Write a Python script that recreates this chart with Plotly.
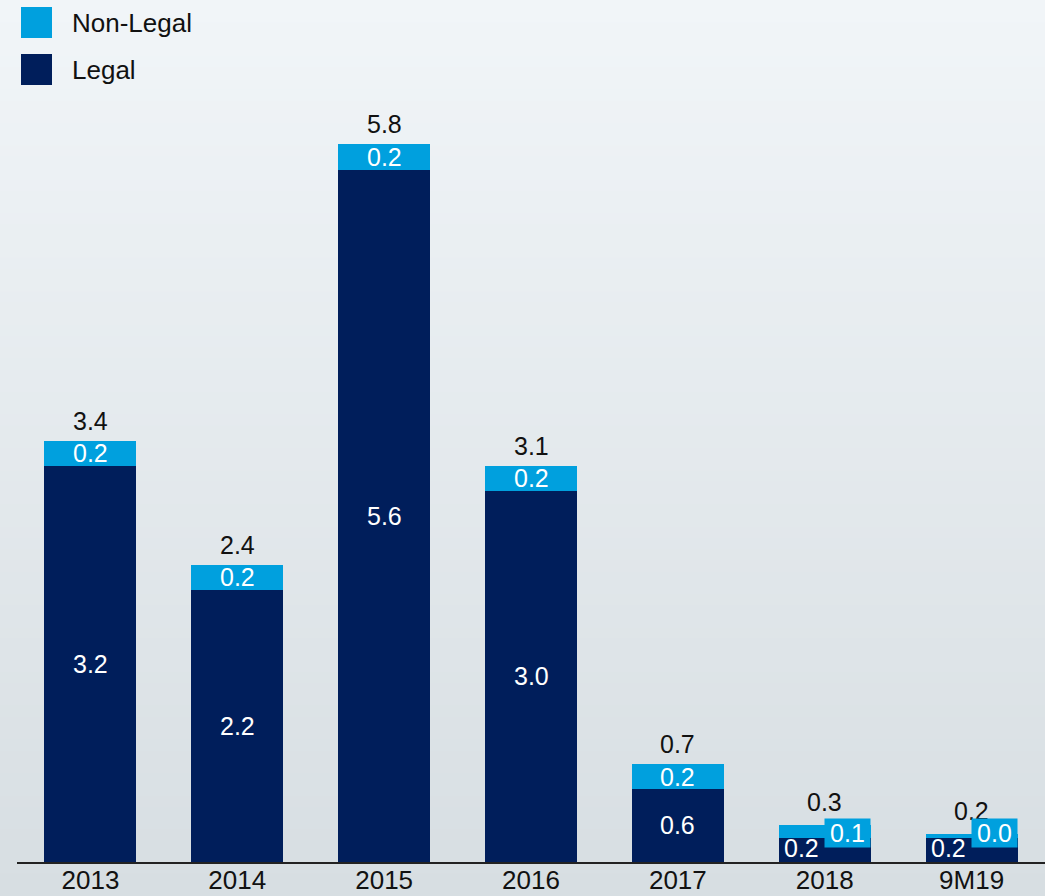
import plotly.graph_objects as go

# ---- data ----
categories = ["2013", "2014", "2015", "2016", "2017", "2018", "9M19"]
legal = [3.20, 2.20, 5.59, 3.00, 0.59, 0.19, 0.19]
non_legal = [0.20, 0.20, 0.21, 0.20, 0.20, 0.11, 0.04]
legal_labels = ["3.2", "2.2", "5.6", "3.0", "0.6", "0.2", "0.2"]
non_legal_labels = ["0.2", "0.2", "0.2", "0.2", "0.2", "0.1", "0.0"]
total_labels = ["3.4", "2.4", "5.8", "3.1", "0.7", "0.3", "0.2"]
series_names = ["Legal", "Non-Legal"]

# ---- style ----
W, H = 1045, 896
ML, MR, MT, MB = 17, 0, 100, 34
PW, PH = W - ML - MR, H - MT - MB
PX_PER_UNIT = 123.8
YMAX = PH / PX_PER_UNIT
DARK = "#001E5B"
LIGHT = "#00A0DE"
FONT = "Liberation Sans, Arial, Helvetica, sans-serif"


def px_x(px):
    return (px - ML) / PW


def px_y(py):
    return (H - MB - py) / PH


fig = go.Figure()
fig.add_trace(go.Bar(x=categories, y=legal, name=series_names[0],
                     marker=dict(color=DARK, line=dict(width=0)), width=0.626,
                     hoverinfo="skip"))
fig.add_trace(go.Bar(x=categories, y=non_legal, name=series_names[1],
                     marker=dict(color=LIGHT, line=dict(width=0)), width=0.626,
                     hoverinfo="skip"))

# background gradient
shapes = []
N = 80
top_c = (241, 245, 248)
bot_c = (215, 222, 226)
for i in range(N):
    t = i / (N - 1)
    c = tuple(round(top_c[k] + (bot_c[k] - top_c[k]) * t) for k in range(3))
    y0 = H * i / N
    y1 = H * (i + 1) / N + 1
    shapes.append(dict(type="rect", xref="paper", yref="paper",
                       x0=px_x(-5), x1=px_x(W + 5), y0=px_y(y1), y1=px_y(y0),
                       fillcolor="rgb(%d,%d,%d)" % c, line=dict(width=0),
                       layer="below"))

# custom legend
legend_items = [(series_names[1], LIGHT, 7), (series_names[0], DARK, 54)]
annotations = []
for name, col, ytop in legend_items:
    shapes.append(dict(type="rect", xref="paper", yref="paper",
                       x0=px_x(21), x1=px_x(52), y0=px_y(ytop + 31), y1=px_y(ytop),
                       fillcolor=col, line=dict(width=0), layer="above"))
    annotations.append(dict(xref="paper", yref="paper", x=px_x(70), y=px_y(ytop + 15.5),
                            text=name, showarrow=False, xanchor="left", yanchor="middle",
                            font=dict(family=FONT, size=26, color="#111111")))

# labels (x given as category index)
for i, cat in enumerate(categories):
    tot = legal[i] + non_legal[i]
    small = legal[i] < 0.4
    annotations.append(dict(x=i, y=tot, text=total_labels[i], showarrow=False,
                            yanchor="middle", yshift=20 if not small else 23,
                            font=dict(family=FONT, size=25, color="#111111")))
    if not small:
        annotations.append(dict(x=i, y=legal[i] / 2, text=legal_labels[i], showarrow=False,
                                yanchor="middle", font=dict(family=FONT, size=25, color="white")))
        annotations.append(dict(x=i, y=legal[i] + non_legal[i] / 2, text=non_legal_labels[i],
                                showarrow=False, yanchor="middle",
                                font=dict(family=FONT, size=25, color="white")))
    else:
        annotations.append(dict(x=i, y=0, text=legal_labels[i], showarrow=False,
                                yanchor="middle", yshift=14, xshift=-23,
                                font=dict(family=FONT, size=25, color="white")))
        annotations.append(dict(x=i, y=legal[i], text=non_legal_labels[i], showarrow=False,
                                yanchor="middle", yshift=5, xshift=23,
                                width=45, height=28, bgcolor=LIGHT, borderpad=0,
                                font=dict(family=FONT, size=25, color="white")))

fig.update_layout(
    width=W, height=H,
    margin=dict(l=ML, r=MR, t=MT, b=MB, pad=0, autoexpand=False),
    barmode="stack", bargap=0.374,
    showlegend=False,
    paper_bgcolor="rgb(229,235,238)", plot_bgcolor="rgba(0,0,0,0)",
    shapes=shapes, annotations=annotations,
    xaxis=dict(type="category", showline=True, linecolor="#222222", linewidth=2, ticks="",
               showgrid=False, zeroline=False, range=[-0.5, 6.5], automargin=False,
               ticklabelstandoff=-6,
               tickfont=dict(family=FONT, size=26, color="#111111")),
    yaxis=dict(visible=False, range=[0, YMAX], showgrid=False, zeroline=False,
               automargin=False),
)

fig.write_html(
    "out.html",
    config={"displayModeBar": False},
    post_script="document.body.style.margin='0';document.body.style.overflow='hidden';"
                "document.body.style.background='rgb(215,222,226)';",
)
